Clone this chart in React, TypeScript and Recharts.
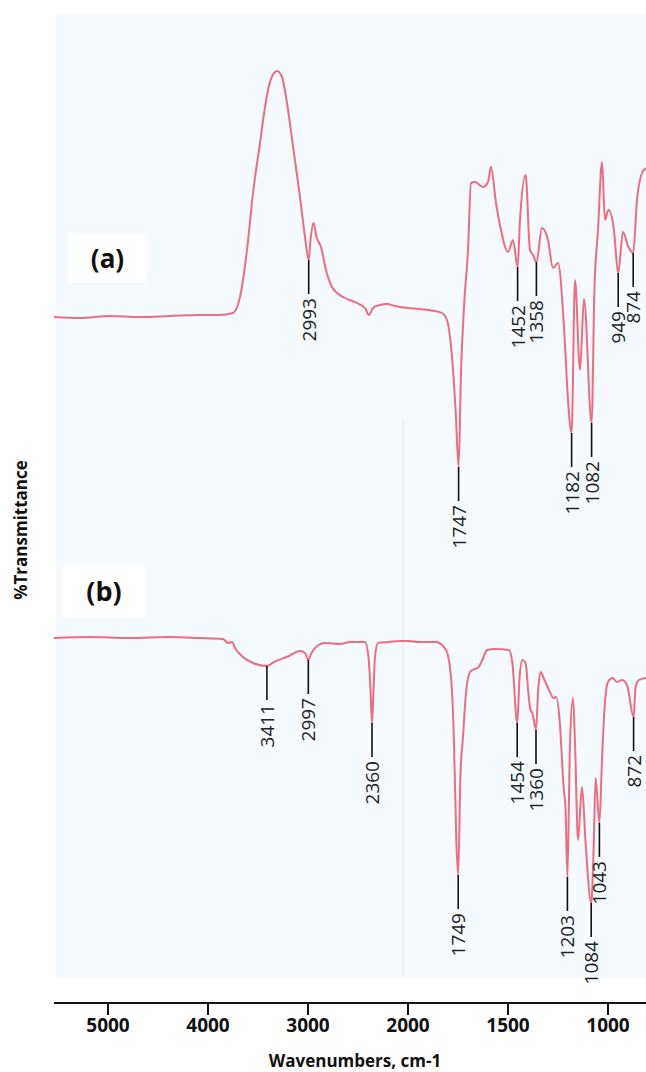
import React from "react";
import { LineChart, Line, XAxis, YAxis, ReferenceDot } from "recharts";

// wavenumbers (cm-1) and transmittance readings, spectrum (a)
const waveA = [
  5540, 5280, 4980, 4680, 4380, 4080, 3880, 3750, 3680, 3610, 3550, 3480, 3430, 3380, 3310, 3260,
  3210, 3145, 3085, 3030, 2993, 2975, 2945, 2915, 2870, 2820, 2760, 2650, 2510, 2430, 2390, 2350,
  2280, 2210, 2130, 2080, 2000, 1945, 1865, 1830, 1805, 1780, 1762, 1747, 1735, 1720, 1700, 1685,
  1665, 1625, 1600, 1585, 1560, 1535, 1500, 1475, 1452, 1440, 1412, 1390, 1375, 1358, 1330, 1300,
  1275, 1250, 1220, 1200, 1182, 1165, 1140, 1120, 1082, 1068, 1050, 1030, 1015, 998, 972, 949,
  925, 898, 874, 855, 830, 810,
];
const transA = [
  68.6, 68.5, 68.7, 68.6, 68.7, 68.8, 68.8, 69.0, 70.6, 75.3, 81.0, 86.0, 89.6, 92.1, 93.2, 92.6,
  90.0, 85.3, 81.0, 76.6, 74.3, 76.3, 78.0, 76.6, 75.6, 73.3, 71.6, 70.6, 70.0, 69.5, 68.8, 69.5,
  69.8, 69.9, 69.7, 69.6, 69.5, 69.4, 69.2, 69.0, 68.3, 64.6, 59.3, 53.6, 63.0, 69.6, 75.3, 82.0,
  82.1, 81.6, 82.1, 83.6, 80.0, 77.3, 75.1, 76.3, 73.6, 78.3, 82.8, 75.3, 74.8, 74.1, 77.5, 76.3,
  73.5, 74.0, 67.6, 60.3, 57.0, 72.3, 63.3, 70.4, 58.0, 71.3, 77.3, 84.1, 78.3, 79.3, 77.6, 73.0,
  77.1, 75.6, 75.0, 80.3, 83.0, 83.5,
];

// spectrum (b)
const waveB = [
  5540, 5180, 4780, 4380, 4080, 3850, 3800, 3760, 3730, 3650, 3550, 3411, 3340, 3190, 3080, 3030,
  2997, 2975, 2920, 2830, 2680, 2580, 2430, 2395, 2375, 2360, 2345, 2330, 2300, 2190, 2080, 2000,
  1945, 1860, 1810, 1785, 1770, 1758, 1749, 1738, 1725, 1710, 1690, 1668, 1652, 1628, 1605, 1565,
  1495, 1478, 1454, 1442, 1428, 1412, 1398, 1388, 1378, 1360, 1350, 1338, 1318, 1295, 1272, 1258,
  1242, 1222, 1212, 1203, 1190, 1175, 1165, 1150, 1130, 1112, 1084, 1072, 1062, 1043, 1030, 1018,
  1000, 978, 955, 930, 905, 872, 862, 845, 810,
];
const transB = [
  36.5, 36.6, 36.5, 36.6, 36.5, 36.4, 36.0, 36.1, 35.5, 34.6, 34.0, 33.7, 34.1, 34.7, 35.2, 35.0,
  34.3, 34.8, 35.6, 36.0, 35.9, 36.1, 36.1, 34.6, 31.3, 28.0, 31.3, 34.6, 36.0, 36.1, 36.2, 36.2,
  36.1, 36.1, 35.3, 32.6, 26.0, 16.0, 12.8, 22.6, 26.6, 31.0, 33.1, 33.4, 33.5, 34.3, 35.3, 35.4,
  35.3, 34.0, 28.0, 32.6, 34.3, 34.0, 31.0, 29.3, 29.0, 27.3, 31.0, 33.1, 32.3, 31.3, 30.5, 30.6,
  28.3, 21.6, 19.3, 12.6, 26.0, 30.5, 26.0, 16.3, 21.6, 16.0, 10.0, 15.3, 22.5, 18.0, 24.3, 29.3,
  32.1, 32.5, 32.1, 32.3, 31.8, 28.6, 31.6, 32.3, 32.5,
];

const peaksA = [2993, 1747, 1452, 1358, 1182, 1082, 949, 874];
const peaksB = [3411, 2997, 2360, 1749, 1454, 1360, 1203, 1084, 1043, 872];

const tickWaves = [5000, 4000, 3000, 2000, 1500, 1000];

// the spectrometer axis is expanded 2x below 2000 cm-1
const toPos = (w: number) => (w >= 2000 ? 2000 - w : 2 * (2000 - w));
const fromPos = (p: number) => (p <= 0 ? 2000 - p : 2000 - p / 2);

const rows = (waves: number[], vals: number[]) =>
  waves.map((w, i) => ({ pos: toPos(w), t: vals[i] }));

const lookup = (waves: number[], vals: number[], w: number) => vals[waves.indexOf(w)];

const CURVE = "#ee6b80";
const FONT = "'Open Sans', sans-serif";

function PeakMark(props: any) {
  const { cx, cy, text } = props;
  if (cx == null || cy == null) return null;
  const ty = cy + 38;
  return (
    <g>
      <line x1={cx} y1={cy} x2={cx} y2={cy + 34} stroke="#111" strokeWidth={1.6} />
      <text
        x={cx}
        y={ty}
        transform={`rotate(-90 ${cx} ${ty})`}
        textAnchor="end"
        dominantBaseline="central"
        fontFamily={FONT}
        fontSize={19}
        fill="#222"
      >
        {text}
      </text>
    </g>
  );
}

export default function App() {
  const dataA = rows(waveA, transA);
  const dataB = rows(waveB, transB);

  const marks = [
    ...peaksA.map((w) => ({ w, t: lookup(waveA, transA, w), k: "a" })),
    ...peaksB.map((w) => ({ w, t: lookup(waveB, transB, w), k: "b" })),
  ];

  return (
    <div style={{ position: "relative", width: 646, height: 1072, fontFamily: FONT }}>
      <style>{"body{margin:0}"}</style>
      <div style={{ position: "absolute", left: 56, top: 14, width: 590, height: 964, background: "#f4fafd" }} />
      <div style={{ position: "absolute", left: 402, top: 420, width: 2, height: 556, background: "#e9f0f7" }} />
      <div
        style={{
          position: "absolute", left: 68, top: 233, width: 79, height: 50, background: "#fff",
          display: "flex", alignItems: "center", justifyContent: "center",
          fontWeight: 700, fontSize: 26, color: "#111",
        }}
      >
        (a)
      </div>
      <div
        style={{
          position: "absolute", left: 63, top: 563, width: 82, height: 55, background: "#fff",
          display: "flex", alignItems: "center", justifyContent: "center",
          fontWeight: 700, fontSize: 27, color: "#111",
        }}
      >
        (b)
      </div>
      <div
        style={{
          position: "absolute", left: -79, top: 520, width: 200, height: 20, lineHeight: "20px",
          textAlign: "center", transform: "rotate(-90deg)", fontWeight: 700, fontSize: 17, color: "#111",
        }}
      >
        %Transmittance
      </div>
      <div style={{ position: "absolute", left: 0, top: 0 }}>
        <LineChart width={646} height={1072} margin={{ top: 14, right: 0, bottom: 0, left: 54 }}>
          <XAxis
            dataKey="pos"
            type="number"
            domain={[toPos(5540), toPos(810)]}
            allowDataOverflow
            ticks={tickWaves.map(toPos)}
            tickFormatter={(p: number) => String(Math.round(fromPos(p)))}
            height={69}
            axisLine={{ stroke: "#111", strokeWidth: 2.2 }}
            tickLine={{ stroke: "#111", strokeWidth: 2 }}
            tickSize={12}
            tickMargin={4}
            tick={{ fontSize: 19, fontWeight: 700, fill: "#111", fontFamily: FONT }}
            label={{
              value: "Wavenumbers, cm-1",
              position: "insideBottom",
              offset: 5,
              dx: 5,
              fontSize: 17,
              fontWeight: 700,
              fill: "#111",
              fontFamily: FONT,
            }}
          />
          <YAxis
            type="number"
            domain={[0, 98.9]}
            allowDataOverflow
            width={0}
            tick={false}
            tickLine={false}
            axisLine={{ stroke: "#111", strokeWidth: 2.2 }}
          />
          <Line
            data={dataA}
            dataKey="t"
            type="monotone"
            stroke={CURVE}
            strokeWidth={2}
            dot={false}
            isAnimationActive={false}
          />
          <Line
            data={dataB}
            dataKey="t"
            type="monotone"
            stroke={CURVE}
            strokeWidth={2}
            dot={false}
            isAnimationActive={false}
          />
          {marks.map((m) => (
            <ReferenceDot
              key={m.k + m.w}
              x={toPos(m.w)}
              y={m.t}
              r={0}
              ifOverflow="visible"
              shape={(p: any) => <PeakMark {...p} text={String(m.w)} />}
            />
          ))}
        </LineChart>
      </div>
    </div>
  );
}
